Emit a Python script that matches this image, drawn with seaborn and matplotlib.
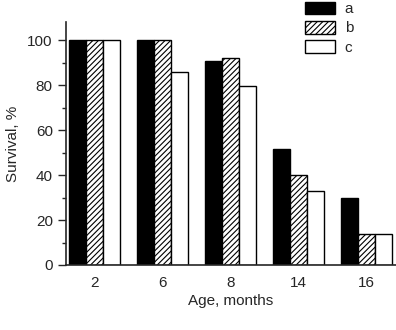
import matplotlib
matplotlib.use("Agg")
import matplotlib.pyplot as plt
import seaborn as sns
import pandas as pd

ages = ["2", "6", "8", "14", "16"]
series_a = [100, 100, 90.7, 51.4, 29.8]
series_b = [100, 100, 92.0, 39.9, 13.6]
series_c = [100, 85.8, 79.6, 32.7, 13.6]
groups = ["a", "b", "c"]

rows = []
for g, vals in zip(groups, [series_a, series_b, series_c]):
    for age, v in zip(ages, vals):
        rows.append({"Age": age, "Survival": v, "group": g})
df = pd.DataFrame(rows)

sns.set_style("ticks")
plt.rcParams["font.family"] = ["Liberation Sans", "DejaVu Sans"]
plt.rcParams["hatch.linewidth"] = 0.8

fig = plt.figure(figsize=(3.96, 3.30), dpi=100)
ax = fig.add_axes([0.1667, 0.197, 0.8333, 0.736])

sns.barplot(data=df, x="Age", y="Survival", hue="group", order=ages,
            hue_order=groups, palette=["black", "white", "white"],
            width=0.75, legend=False, ax=ax, saturation=1)

styles = {"a": ("black", None), "b": ("white", "//////"), "c": ("white", None)}
for cont, g in zip(ax.containers, groups):
    fc, hatch = styles[g]
    for p in cont.patches:
        p.set_facecolor(fc)
        p.set_edgecolor("black")
        p.set_linewidth(1.0)
        if hatch:
            p.set_hatch(hatch)

ax.set_xlim(-0.42, 4.43)
ax.set_ylim(0, 108)
ax.set_yticks([0, 20, 40, 60, 80, 100])
ax.set_yticks([10, 30, 50, 70, 90], minor=True)
ax.tick_params(axis="y", which="major", length=6, width=1, labelsize=11, direction="out")
ax.tick_params(axis="y", which="minor", length=3, width=1, direction="out")
ax.tick_params(axis="x", length=0, labelsize=11, pad=8)
sns.despine(ax=ax)
for s in ["left", "bottom"]:
    ax.spines[s].set_linewidth(1.2)
ax.set_xlabel("Age, months", fontsize=11, labelpad=3)
ax.set_ylabel("Survival, %", fontsize=11, labelpad=5)

leg = ax.legend(ax.containers, groups, loc="upper left",
                bbox_to_anchor=(0.77, 0.995), bbox_transform=fig.transFigure,
                frameon=False, fontsize=11, handlelength=2.0, handleheight=0.9,
                labelspacing=0.3, handletextpad=0.6, borderpad=0, borderaxespad=0)

fig.savefig("out.png", dpi=100)
